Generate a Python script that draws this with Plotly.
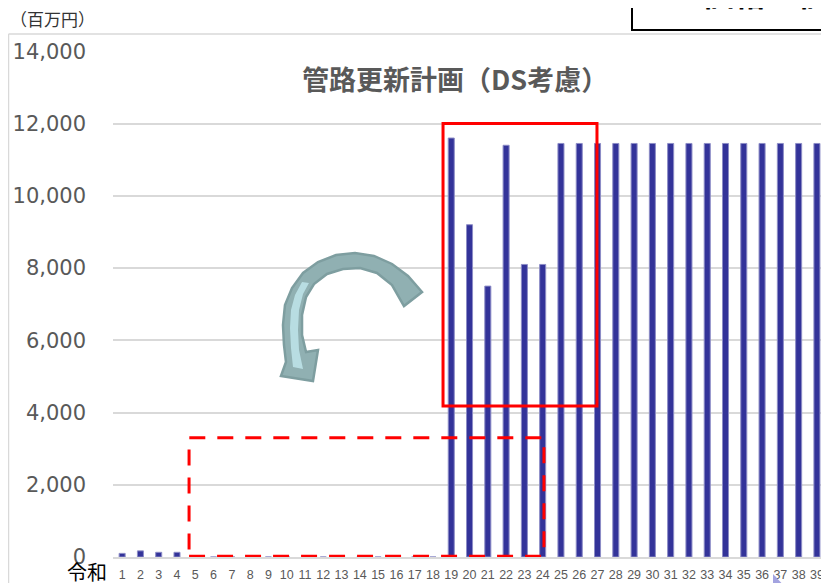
import plotly.graph_objects as go

# 令和 year (x axis) and pipe renewal cost in million yen
years = list(range(1, 40))
costs = [100, 170, 130, 130, 0, 0, 0, 0, 0, 0,
         0, 0, 0, 0, 0, 0, 0, 0, 11600, 9200,
         7500, 11400, 8100, 8100, 11450, 11450, 11450, 11450, 11450, 11450,
         11450, 11450, 11450, 11450, 11450, 11450, 11450, 11450, 11450]
y_ticks = [0, 2000, 4000, 6000, 8000, 10000, 12000, 14000]

# page body has an 8px margin, so the figure is laid out 8px in
OFF = 8
W, H = 829 - OFF, 583 - OFF
L, R, T, B = 113 - OFF, 0, 51 - OFF, 26
PW, PH = W - L - R, H - T - B

GRAY = "#595959"
NUM_FONT = "DejaVu Sans"
JP_FONT = "Noto Sans CJK JP"


def px(x, y):
    # page pixel position -> paper coords (for decorations only)
    x, y = x - OFF, y - OFF
    return (x - L) / PW, (H - B - y) / PH


def path(points):
    pts = [px(x, y) for x, y in points]
    return "M " + " L ".join(f"{a:.4f},{b:.4f}" for a, b in pts) + " Z"


def line(p0, p1, color, width):
    (x0, y0), (x1, y1) = px(*p0), px(*p1)
    return dict(type="line", xref="paper", yref="paper", x0=x0, y0=y0,
                x1=x1, y1=y1, line=dict(color=color, width=width), layer="below")


def note(text, pos, size, color, xanchor="center", **kw):
    x, y = px(*pos)
    return dict(text=text, xref="paper", yref="paper", x=x, y=y,
                xanchor=xanchor, yanchor="middle", showarrow=False,
                font=dict(family=JP_FONT, size=size, color=color), **kw)


arrow_outline = [
    (422, 292), (408, 276), (392, 264), (374, 256), (355, 253), (336, 255),
    (318, 262), (303, 273), (292, 288), (285, 305), (283, 325), (284, 345),
    (286, 362), (281, 376), (313, 381), (318, 350), (306, 352), (302, 335),
    (302, 315), (306, 297), (314, 284), (327, 274), (343, 269), (360, 268),
    (377, 273), (392, 285), (404, 306),
]
arrow_back = [
    (302, 282), (295, 295), (291, 310), (290, 328), (291, 348), (293, 367),
    (303, 369), (299, 350), (298, 330), (299, 310), (303, 294), (309, 283),
]

fig = go.Figure()
fig.add_trace(go.Bar(
    x=years, y=costs,
    marker=dict(color="#333399", line=dict(color="#8C8CC6", width=1)),
    showlegend=False, hoverinfo="x+y",
))

x0, y0 = px(632, -10)
x1, y1 = px(840, 30)
shapes = [
    # chart frame (cropped)
    line((8.5, 34), (829, 34), "#D9D9D9", 1.5),
    line((8.5, 34), (8.5, 583), "#D9D9D9", 1.5),
    # box in top-right corner
    dict(type="rect", xref="paper", yref="paper", x0=x0, y0=y0, x1=x1, y1=y1,
         line=dict(color="black", width=2), fillcolor="white"),
    # red frames
    dict(type="rect", xref="x", yref="y", x0=18.55, x1=26.97, y0=4180, y1=12000,
         line=dict(color="#FF0000", width=3)),
    dict(type="rect", xref="x", yref="y", x0=4.66, x1=24.07, y0=20, y1=3300,
         line=dict(color="#FF0000", width=3, dash="16px,12px")),
    # curved arrow
    dict(type="path", xref="paper", yref="paper", path=path(arrow_outline),
         fillcolor="#90B0B2", line=dict(color="#7E9EA0", width=2.5)),
    dict(type="path", xref="paper", yref="paper", path=path(arrow_back),
         fillcolor="#B8DDE2", line=dict(width=0)),
    # small triangle in bottom-right corner
    dict(type="path", xref="paper", yref="paper",
         path=path([(773, 574), (773, 590), (788, 590)]),
         fillcolor="#A3A3E0", line=dict(width=0)),
]

annotations = [
    note("<b>管路更新計画（DS考慮）</b>", (455, 78), 27, GRAY),
    note("（百万円）", (8, 19), 17, "#333333", xanchor="left"),
    note("令和", (87, 571), 20, "black"),
    note("<b>価格　価</b>", (700, -8), 32, "black", xanchor="left"),
]

fig.update_layout(
    width=W, height=H,
    margin=dict(l=L, r=R, t=T, b=B),
    paper_bgcolor="white", plot_bgcolor="white",
    bargap=0.67,
    shapes=shapes,
    annotations=annotations,
    xaxis=dict(
        range=[0.5, 39.66], tickmode="array", tickvals=years,
        ticktext=[str(y) for y in years], tickangle=0,
        tickfont=dict(family="Liberation Sans", size=12.5, color=GRAY),
        showgrid=False, showline=True, linecolor="#D9D9D9", linewidth=2,
        ticks="", ticklabelstandoff=5, zeroline=False,
    ),
    yaxis=dict(
        range=[0, 14010], tickmode="array", tickvals=y_ticks,
        tickformat=",", showgrid=True, gridcolor="#D9D9D9", gridwidth=1.5,
        tickfont=dict(family=NUM_FONT, size=21, color=GRAY),
        zeroline=False, showline=False, ticks="", ticklabelstandoff=26,
    ),
)

fig.write_html("out.html")
